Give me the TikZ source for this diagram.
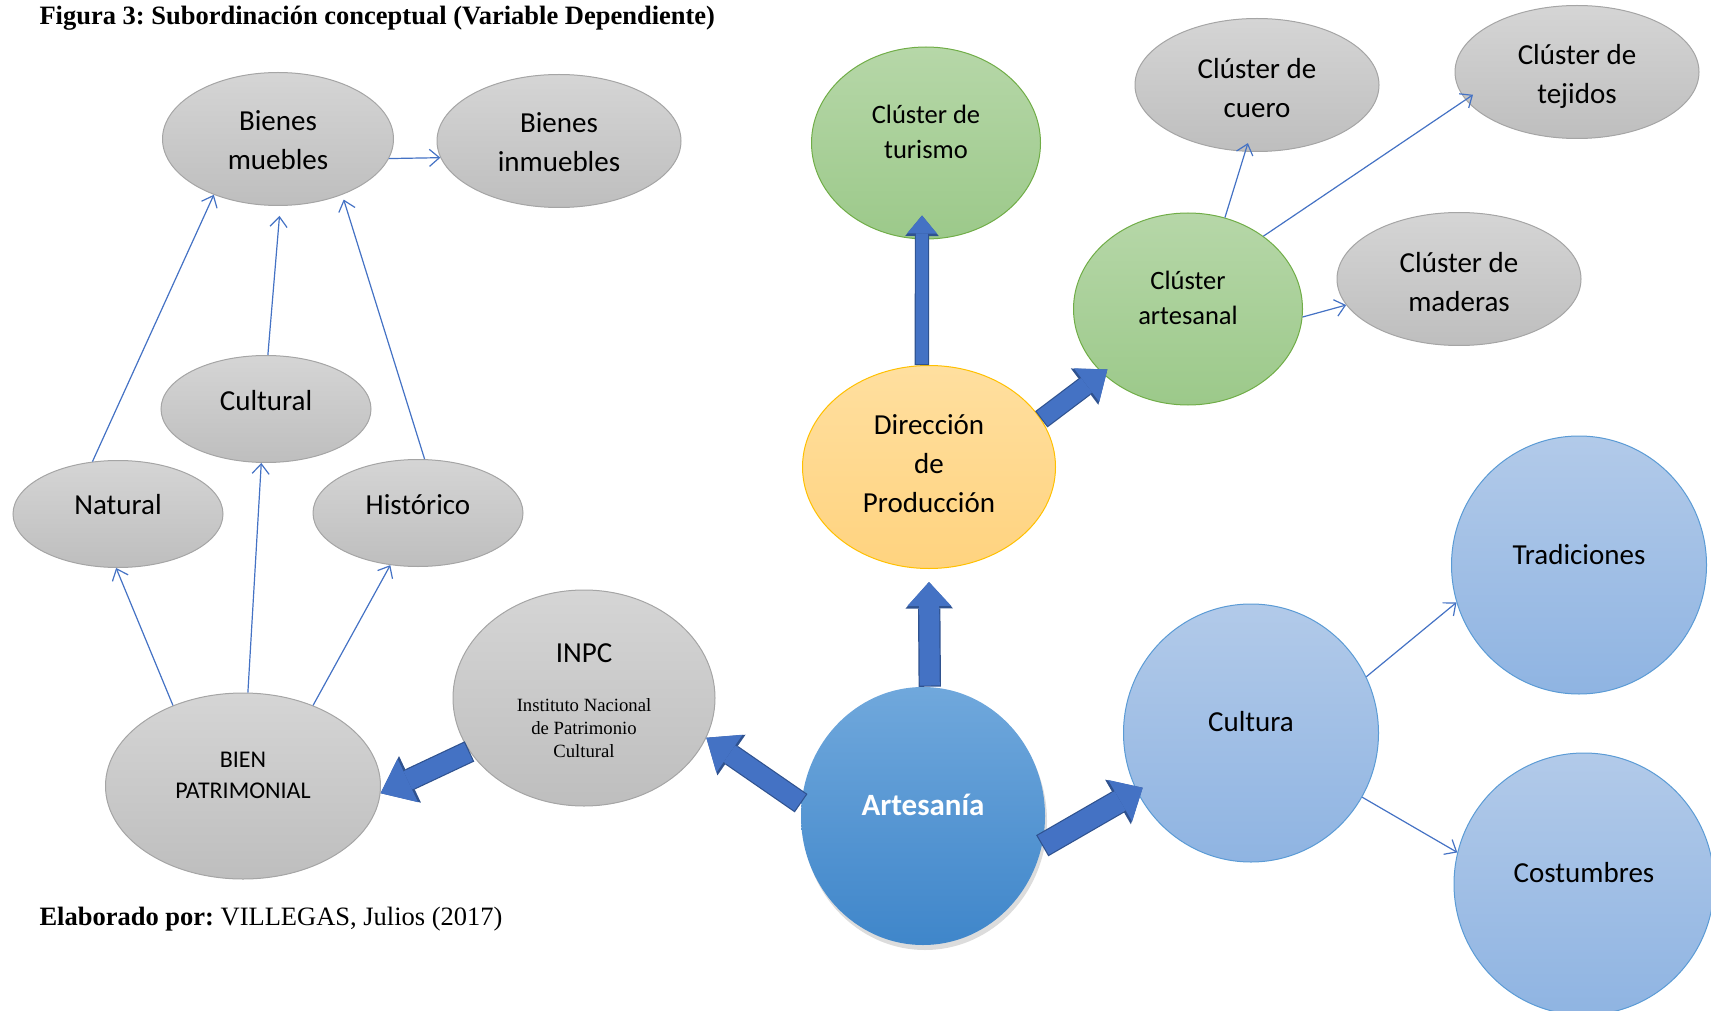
\documentclass[tikz,border=0pt]{standalone}
\usepackage{fontspec}
\setmainfont{Liberation Serif}
\newfontfamily\cali{Carlito}
\usetikzlibrary{arrows.meta, shapes.geometric, shadows}
\frenchspacing

\definecolor{graytop}{HTML}{D5D5D5}
\definecolor{graybot}{HTML}{BEBEBE}
\definecolor{grayline}{HTML}{A5A5A5}
\definecolor{greentop}{HTML}{B6D7A8}
\definecolor{greenbot}{HTML}{9CC98A}
\definecolor{greenline}{HTML}{70AD47}
\definecolor{orangetop}{HTML}{FFDF9F}
\definecolor{orangebot}{HTML}{FFD37F}
\definecolor{orangeline}{HTML}{FFC000}
\definecolor{arttop}{HTML}{70A8DC}
\definecolor{artbot}{HTML}{3F86CA}
\definecolor{cultop}{HTML}{B2CAE9}
\definecolor{culbot}{HTML}{8FB4E2}
\definecolor{culline}{HTML}{5B9BD5}
\definecolor{arrowblue}{HTML}{4472C4}
\definecolor{arrowline}{HTML}{2F528F}

\newcommand\fbig{\cali\fontsize{29pt}{39pt}\selectfont}
\newcommand\fmid{\cali\fontsize{26.5pt}{35pt}\selectfont}
\newcommand\fsm{\cali\fontsize{24pt}{31pt}\selectfont}
\newcommand\fart{\cali\bfseries\fontsize{31pt}{38pt}\selectfont}
\newcommand\ftnr{\rmfamily\fontsize{18.7pt}{23pt}\selectfont}
\newcommand\ftit{\rmfamily\fontsize{26.5pt}{32pt}\selectfont}

% block arrow: from, to, shaft width, head width, head length (pt)
\newcommand\blockarr[5]{%
  \pgfmathsetmacro\bkw{#3+2.4}\pgfmathsetmacro\bkh{#4+3.5}\pgfmathsetmacro\bkl{#5+2.5}%
  \draw[line width=\bkw pt, arrowline, -{Triangle[width=\bkh pt, length=\bkl pt, line width=0pt]}] (#1) -- (#2);
  \draw[line width=#3pt, arrowblue, shorten <=1.2pt, -{Triangle[width=#4pt, length=#5pt, line width=0pt]}] (#1) -- (#2);
}

\begin{document}
\begin{tikzpicture}[x=1pt, y=-1pt,
  el/.style={ellipse, inner sep=0pt, line width=1pt},
  grayel/.style={el, draw=grayline, top color=graytop, bottom color=graybot},
  greenel/.style={el, draw=greenline, top color=greentop, bottom color=greenbot},
  orangeel/.style={el, draw=orangeline, top color=orangetop, bottom color=orangebot},
  bluel/.style={el, draw=culline, top color=cultop, bottom color=culbot},
  artel/.style={el, draw=none, top color=arttop, bottom color=artbot,
                drop shadow={shadow xshift=2pt, shadow yshift=-5pt, opacity=.28}},
  lbl/.style={font=\fbig, align=center, inner sep=0pt},
  arr/.style={arrowblue, line width=1.2pt, -{Straight Barb[length=10pt, width=17pt]}},
]
\useasboundingbox (0,0) rectangle (1711,1011);
\clip (0,0) rectangle (1711,1011);

% titles
\node[anchor=base west, font=\ftit] (titulo) at (36,25)
  {\bfseries Figura 3: Subordinación conceptual (Variable Dependiente)};
\node[anchor=base west, font=\ftit] (autor) at (36,925)
  {\textbf{Elaborado por:} VILLEGAS, Julios (2017)};

% left side: bien patrimonial
\node[grayel, minimum width=231pt, minimum height=133pt, label={[lbl, yshift=-1.5pt]center:Bienes\\muebles}] (bm) at (278,139) {};
\node[grayel, minimum width=244pt, minimum height=133pt, label={[lbl, yshift=-1.5pt]center:Bienes\\inmuebles}] (bi) at (559,141) {};
\node[grayel, minimum width=210pt, minimum height=107pt, label={[lbl, yshift=8pt]center:Cultural}] (cul) at (266,409) {};
\node[grayel, minimum width=210pt, minimum height=107pt, label={[lbl, yshift=9pt]center:Natural}] (nat) at (118,514) {};
\node[grayel, minimum width=210pt, minimum height=107pt, label={[lbl, yshift=8pt]center:Histórico}] (his) at (418,513) {};
\node[grayel, minimum width=275pt, minimum height=186pt, label={[lbl, font=\fsm, yshift=11pt]center:BIEN\\PATRIMONIAL}] (bp) at (243,786) {};
\node[grayel, minimum width=262pt, minimum height=216pt,
      label={[lbl, yshift=45pt]center:INPC},
      label={[lbl, font=\ftnr, yshift=-30pt]center:Instituto Nacional\\de Patrimonio\\Cultural}] (inpc) at (584,698) {};

% centre
\node[artel, minimum width=244pt, minimum height=258pt, label={[lbl, font=\fart, text=white, yshift=11pt]center:Artesanía}] (art) at (923,816) {};
\node[orangeel, minimum width=253pt, minimum height=203pt, label={[lbl, yshift=3pt]center:Dirección\\de\\Producción}] (dir) at (929,467) {};
\node[greenel, minimum width=229pt, minimum height=192pt, label={[lbl, font=\fmid, yshift=11pt]center:Clúster de\\turismo}] (tur) at (926,143) {};
\node[greenel, minimum width=229pt, minimum height=192pt, label={[lbl, font=\fmid, yshift=11pt]center:Clúster\\artesanal}] (ca) at (1188,309) {};

% clusters
\node[grayel, minimum width=244pt, minimum height=133pt, label={[lbl, yshift=-3pt]center:Clúster de\\cuero}] (cc) at (1257,85) {};
\node[grayel, minimum width=244pt, minimum height=133pt, label={[lbl, yshift=-4pt]center:Clúster de\\tejidos}] (ct) at (1577,72) {};
\node[grayel, minimum width=244pt, minimum height=133pt, label={[lbl, yshift=-3pt]center:Clúster de\\maderas}] (cm) at (1459,279) {};

% cultura
\node[bluel, minimum width=255pt, minimum height=258pt, label={[lbl, yshift=11pt]center:Cultura}] (cu) at (1251,733) {};
\node[bluel, minimum width=255pt, minimum height=258pt, label={[lbl, yshift=10pt]center:Tradiciones}] (tr) at (1579,565) {};
\node[bluel, minimum width=260pt, minimum height=262pt, label={[lbl, yshift=11pt]center:Costumbres}] (co) at (1584,884) {};

% thin arrows
\draw[arr] (bm.-10) -- (bi.188);
\draw[arr] (nat.116) -- (bm.221);
\draw[arr, shorten >=10pt] (cul.88) -- (bm.272);
\draw[arr, shorten >=5pt] (his.83) -- (bm.319);
\draw[arr] (bp.131) -- (nat.268);
\draw[arr] (bp.87) -- (cul.265);
\draw[arr] (bp.49) -- (his.242);
\draw[arr, shorten >=-9pt] (ca.68) -- (cc.260);
\draw[arr, shorten >=-9pt] (ca.44) -- (ct.194);
\draw[arr] (ca.-4) -- (cm.193);
\draw[arr] (cu.26) -- (tr.197);
\draw[arr] (cu.-30) -- (co.166);

% block arrows
\blockarr{art.174}{inpc.-18}{20}{46}{28}
\blockarr{inpc.205}{bp.-3}{20}{48}{30}
\blockarr{art.87}{[yshift=-13pt]dir.south}{20}{44}{24}
\blockarr{dir.94}{[xshift=-4pt, yshift=24pt]tur.south}{12}{30}{18}
\blockarr{dir.23}{[xshift=9pt]ca.214}{18}{42}{26}
\blockarr{art.-14}{[xshift=6pt, yshift=3.5pt]cu.207}{22}{48}{26}
\end{tikzpicture}
\end{document}
